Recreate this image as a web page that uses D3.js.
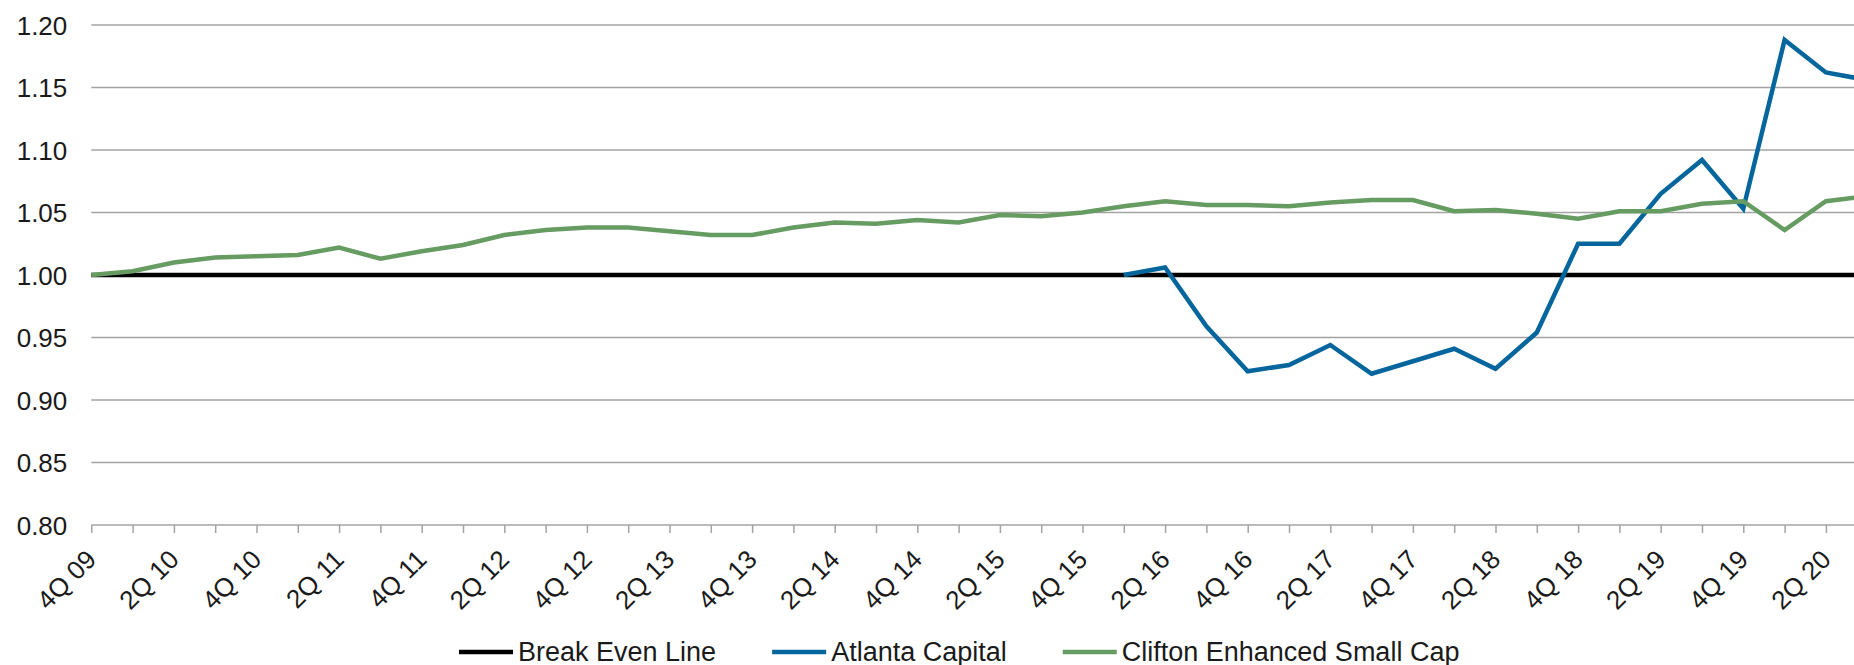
<!DOCTYPE html>
<html>
<head>
<meta charset="utf-8">
<script src="https://cdn.jsdelivr.net/npm/d3@7"></script>
<style>
  body { margin: 0; background: #fff; }
  svg { display: block; font-family: "Liberation Sans", Arial, sans-serif; }
</style>
</head>
<body>
<svg></svg>
<script>
var width = 1854;
var height = 665;

var quarters = [
  "4Q 09",
  "1Q 10", "2Q 10", "3Q 10", "4Q 10",
  "1Q 11", "2Q 11", "3Q 11", "4Q 11",
  "1Q 12", "2Q 12", "3Q 12", "4Q 12",
  "1Q 13", "2Q 13", "3Q 13", "4Q 13",
  "1Q 14", "2Q 14", "3Q 14", "4Q 14",
  "1Q 15", "2Q 15", "3Q 15", "4Q 15",
  "1Q 16", "2Q 16", "3Q 16", "4Q 16",
  "1Q 17", "2Q 17", "3Q 17", "4Q 17",
  "1Q 18", "2Q 18", "3Q 18", "4Q 18",
  "1Q 19", "2Q 19", "3Q 19", "4Q 19",
  "1Q 20", "2Q 20", "3Q 20"
];

var breakEven = quarters.map(() => 1.00);

var atlanta = [
  null, null, null, null, null, null, null, null, null, null,
  null, null, null, null, null, null, null, null, null, null,
  null, null, null, null, null,
  1.000, 1.006, 0.959, 0.923, 0.928, 0.944, 0.921, 0.931, 0.941, 0.925,
  0.954, 1.025, 1.025, 1.065, 1.092, 1.053, 1.188, 1.162, 1.156
];

var clifton = [
  1.000, 1.003, 1.010, 1.014, 1.015, 1.016, 1.022, 1.013, 1.019, 1.024,
  1.032, 1.036, 1.038, 1.038, 1.035, 1.032, 1.032, 1.038, 1.042, 1.041,
  1.044, 1.042, 1.048, 1.047, 1.050, 1.055, 1.059, 1.056, 1.056, 1.055,
  1.058, 1.060, 1.060, 1.051, 1.052, 1.049, 1.045, 1.051, 1.051, 1.057,
  1.059, 1.036, 1.059, 1.063
];

var yTicks = [0.80, 0.85, 0.90, 0.95, 1.00, 1.05, 1.10, 1.15, 1.20];

var seriesNames = ["Break Even Line", "Atlanta Capital", "Clifton Enhanced Small Cap"];
var seriesColors = ["#000000", "#05669e", "#669c62"];
var seriesData = [breakEven, atlanta, clifton];

var plotLeft = 91.3;
var step = 41.3;
var plotTop = 25;
var plotBottom = 525;

var svg = d3.select("svg")
    .attr("width", width)
    .attr("height", height);

var x = d3.scalePoint()
    .domain(quarters)
    .range([plotLeft, plotLeft + step * (quarters.length - 1)]);

var y = d3.scaleLinear()
    .domain([0.80, 1.20])
    .range([plotBottom, plotTop]);

// gridlines
svg.append("g")
  .selectAll("line")
  .data(yTicks.slice(1))
  .enter()
  .append("line")
    .attr("x1", plotLeft)
    .attr("x2", width)
    .attr("y1", d => y(d))
    .attr("y2", d => y(d))
    .attr("stroke", "#a3a3a3")
    .attr("stroke-width", 1.5);

// y axis labels
var yAxis = svg.append("g")
    .attr("transform", "translate(" + (plotLeft - 24) + ",0)")
    .call(d3.axisLeft(y).tickValues(yTicks).tickSize(0).tickFormat(d3.format(".2f")));
yAxis.select(".domain").remove();
yAxis.selectAll("text")
    .attr("x", 0)
    .attr("dy", "0.36em")
    .style("font-size", "26px")
    .style("fill", "#1a1a1a")
    .style("font-family", "'Liberation Sans', Arial, sans-serif");

// x axis
var xAxis = svg.append("g")
    .attr("transform", "translate(0," + plotBottom + ")")
    .call(d3.axisBottom(x).tickSizeInner(8).tickSizeOuter(0).tickPadding(0)
      .tickFormat((d, i) => i % 2 === 0 ? d : ""));
xAxis.select(".domain")
    .attr("stroke", "#a3a3a3")
    .attr("stroke-width", 1.5)
    .attr("d", "M" + plotLeft + ",0H" + width);
xAxis.selectAll(".tick line")
    .attr("stroke", "#a3a3a3")
    .attr("stroke-width", 1.5);
xAxis.selectAll(".tick text")
    .attr("x", 0)
    .attr("y", 0)
    .attr("dy", 0)
    .attr("transform", "translate(6,36) rotate(-45)")
    .style("text-anchor", "end")
    .style("font-size", "26px")
    .style("fill", "#1a1a1a")
    .style("font-family", "'Liberation Sans', Arial, sans-serif");

// series lines
var line = d3.line()
    .defined(d => d != null)
    .x((d, i) => x(quarters[i]))
    .y(d => y(d));

svg.append("g")
  .selectAll("path")
  .data(seriesData)
  .enter()
  .append("path")
    .attr("fill", "none")
    .attr("stroke", (d, i) => seriesColors[i])
    .attr("stroke-width", 4.5)
    .attr("stroke-linejoin", "miter")
    .attr("d", line);

// legend
var legend = svg.append("g").attr("transform", "translate(0,652)");
var lx = 459;
seriesNames.forEach(function(name, i) {
  legend.append("line")
      .attr("x1", lx)
      .attr("x2", lx + 54)
      .attr("y1", 0)
      .attr("y2", 0)
      .attr("stroke", seriesColors[i])
      .attr("stroke-width", 4.5);
  var t = legend.append("text")
      .attr("x", lx + 59)
      .attr("y", 9)
      .style("font-size", "27px")
      .style("fill", "#1a1a1a")
      .text(name);
  lx = lx + 59 + t.node().getComputedTextLength() + 56;
});
</script>
</body>
</html>
